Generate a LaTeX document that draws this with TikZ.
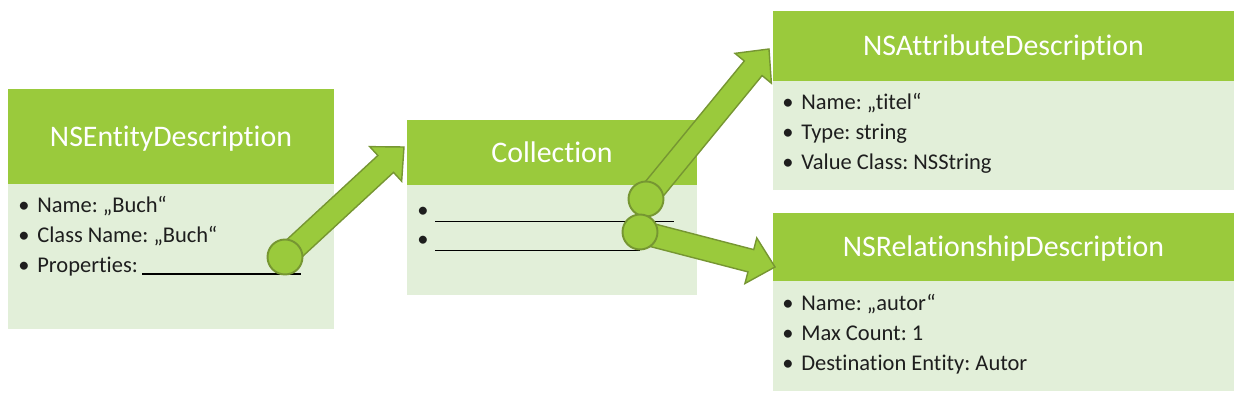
\documentclass[tikz,border=0pt]{standalone}
\usepackage{fontspec}
\setmainfont{Carlito}[Ligatures=NoCommon]
\usetikzlibrary{positioning,calc}
\definecolor{cdGreen}{RGB}{154,202,60}
\definecolor{cdPale}{RGB}{226,239,217}
\definecolor{cdOlive}{RGB}{118,150,50}
\definecolor{cdText}{RGB}{30,30,30}
\frenchspacing
\tikzset{
    cdHead/.style={
        rectangle,
        fill=cdGreen,
        text=white,
        inner sep=0pt,
        outer sep=0pt,
        font=\fontsize{17}{20}\selectfont,
        text height=10.9pt,
        text depth=0pt
    },
    cdBody/.style={rectangle, fill=cdPale, inner sep=0pt, outer sep=0pt},
    % List lines
    cdItem/.style={anchor=base west, inner sep=0pt, text=cdText, font=\fontsize{12.8}{15}\selectfont},
    cdBullet/.style={anchor=base, inner sep=0pt, text=cdText, font=\fontsize{12.8}{15}\selectfont},
    cdRule/.style={draw=black, line width=0.7pt},
    % Fat arrows
    cdArrow/.style={fill=cdGreen, draw=cdOlive, line width=0.8pt, line join=miter},
    cdKnob/.style={circle, fill=cdGreen, draw=cdOlive, line width=1.1pt, minimum size=0.7cm, inner sep=0pt}
}
\newcommand{\cdFatArrow}[2]{%
    \coordinate (#1h) at ($(#2)!14.2pt!(#1)$);
    \draw[cdArrow] ($(#1)!6.55pt!90:(#2)$) -- ($(#1h)!6.55pt!90:(#2)$)
        -- ($(#1h)!13.4pt!90:(#2)$) -- (#2) -- ($(#1h)!13.4pt!-90:(#2)$)
        -- ($(#1h)!6.55pt!-90:(#2)$) -- ($(#1)!6.55pt!-90:(#2)$) -- cycle;
}
\begin{document}
\begin{tikzpicture}[x=0.02cm, y=-0.02cm]
\useasboundingbox (0,0) rectangle (1242,404);

% Boxes
\node[cdHead, minimum width=6.52cm, minimum height=1.9cm] (entH) at (171,136.5) {NSEntityDescription};
\node[cdBody, minimum width=6.52cm, minimum height=2.9cm, below=0pt of entH] (entB) {};
\node[cdHead, minimum width=5.8cm, minimum height=1.3cm] (colH) at (552,152.5) {Collection};
\node[cdBody, minimum width=5.8cm, minimum height=2.2cm, below=0pt of colH] (colB) {};
\node[cdHead, minimum width=9.22cm, minimum height=1.4cm] (attH) at (1003.5,46) {NSAttributeDescription};
\node[cdBody, minimum width=9.22cm, minimum height=2.18cm, below=0pt of attH] (attB) {};
\node[cdHead, minimum width=9.22cm, minimum height=1.36cm] (relH) at (1003.5,247) {NSRelationshipDescription};
\node[cdBody, minimum width=9.22cm, minimum height=2.2cm, below=0pt of relH] (relB) {};

% Entity lines
\foreach \t [count=\i] in {{Name: „Buch“}, {Class Name: „Buch“}, {Properties:}} {
    \node[cdBullet] (entD\i) at (24, 183+30*\i) {•};
    \node[cdItem] (entI\i) at (37, 183+30*\i) {\t};
}
\draw[cdRule] (142,274) -- (301,274);

% Collection lines
\foreach \i/\e in {1/674, 2/640} {
    \node[cdBullet] (colD\i) at (423, 189+28.7*\i) {•};
    \draw[cdRule] (435, 193+28.7*\i) -- (\e, 193+28.7*\i);
}

% Attribute lines
\foreach \t [count=\i] in {{Name: „titel“}, {Type: string}, {Value Class: NSString}} {
    \node[cdBullet] (attD\i) at (788, 79+30.3*\i) {•};
    \node[cdItem] (attI\i) at (801, 79+30.3*\i) {\t};
}

% Relationship lines
\foreach \t [count=\i] in {{Name: „autor“}, {Max Count: 1}, {Destination Entity: Autor}} {
    \node[cdBullet] (relD\i) at (788, 280+30.3*\i) {•};
    \node[cdItem] (relI\i) at (801, 280+30.3*\i) {\t};
}

% Arrows
\coordinate (entK) at (285,257);
\coordinate (colT) at (404,147);
\coordinate (colK) at (646,199);
\coordinate (attT) at (769,49);
\coordinate (relK) at (640,232);
\coordinate (relT) at (775,267);
\cdFatArrow{entK}{colT}
\node[cdKnob] (entKnob) at (entK) {};
\cdFatArrow{colK}{attT}
\node[cdKnob] (colKnob) at (colK) {};
\cdFatArrow{relK}{relT}
\node[cdKnob] (relKnob) at (relK) {};
\end{tikzpicture}
\end{document}
